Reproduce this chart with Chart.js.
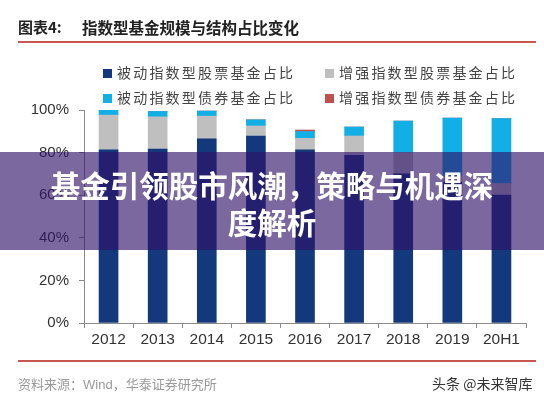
<html><head><script src="https://cdn.jsdelivr.net/npm/chart.js@4.4.3/dist/chart.umd.min.js"></script>
<style>
body { margin:0; background:#fff; font-family:"Noto Sans CJK SC", sans-serif; }
#wrap { position:relative; width:544px; height:400px; overflow:hidden; }
#box { position:absolute; left:0; top:0; width:544px; height:400px; }
.abs { position:absolute; white-space:nowrap; }
.line { position:absolute; left:18px; width:518px; height:2px; background:#c8574f; }
#legend .it { position:absolute; font-size:14px; letter-spacing:2.2px; color:#444; line-height:16px; }
#legend .sq { display:inline-block; width:9px; height:9px; margin-right:5px; vertical-align:0px; }
#band { position:absolute; left:0; top:152px; width:544px; height:98px; background:rgba(47,19,103,0.64);
  color:#fff; font-weight:bold; font-size:29.5px; line-height:37px; text-align:center; padding-top:14px; box-sizing:border-box; }
</style></head>
<body>
<div id="wrap">
<div id="box"><canvas id="mychart"></canvas></div>
<div class="abs" style="left:18px;top:16px;font-size:15px;font-weight:bold;color:#222">图表4:</div>
<div class="abs" style="left:82px;top:16px;font-size:15.5px;font-weight:bold;color:#222">指数型基金规模与结构占比变化</div>
<div class="line" style="top:41px"></div>
<div id="legend"></div>
<div id="band">基金引领股市风潮，策略与机遇深<br>度解析</div>
<div class="line" style="top:360px"></div>
<div class="abs" style="left:18px;top:374px;font-size:13px;color:#9a9a9a">资料来源：<span style="font-family:'Liberation Sans'">Wind</span>，华泰证券研究所</div>
<div class="abs" style="left:432px;top:373px;font-size:14px;color:#333">头条 @未来智库</div>
</div>
<script>
labels = ["2012","2013","2014","2015","2016","2017","2018","2019","20H1"]
passiveStock  = [81.3, 81.6, 86.5, 87.8, 81.3, 78.7, 70.0, 66.0, 60.0]
enhancedStock = [16.3, 15.2, 10.6, 4.7, 5.4, 9.1, 10.0, 3.0, 5.5]
passiveBond   = [2.3, 2.5, 2.4, 2.9, 3.2, 4.2, 14.8, 27.2, 30.5]
enhancedBond  = [0, 0, 0, 0, 0.7, 0, 0, 0, 0]
names = ["被动指数型股票基金占比","增强指数型股票基金占比","被动指数型债券基金占比","增强指数型债券基金占比"]
colors = ["#13397c","#bfbfbf","#12aee6","#c0504d"]
yTicks = [0,20,40,60,80,100]

// legend (html), 2 columns
legend = document.querySelector("#legend")
legPos = [[103,64],[325,64],[103,89],[325,89]]
names.forEach(function(n,i){
  d = document.createElement("div"); d.className = "it"
  d.style.left = legPos[i][0]+"px"; d.style.top = legPos[i][1]+"px"
  d.innerHTML = '<span class="sq" style="background:'+colors[i]+'"></span>'+n
  legend.appendChild(d)
})

series = [passiveStock, enhancedStock, passiveBond, enhancedBond]
datainfo = { labels: labels, datasets: series.map(function(s,i){
  return { label: names[i], data: s, backgroundColor: colors[i], barThickness: 19, stack: "a" } }) }

config = { type: "bar", data: datainfo, options: {
  responsive: true, maintainAspectRatio: false, animation: false,
  layout: { padding: { left: 0, right: 18, top: 110, bottom: 49 } },
  plugins: { legend: { display: false }, tooltip: { enabled: false } },
  scales: {
    x: { stacked: true,
      grid: { drawOnChartArea: false, tickLength: 5, color: "#8a8a8a", offset: true },
      border: { color: "#8a8a8a" },
      ticks: { color: "#333", padding: 2, font: { family: "Liberation Sans", size: 15.5 } },
      afterFit: function(s){ s.height = 28 } },
    y: { stacked: true, min: 0, max: 100,
      afterBuildTicks: function(s){ s.ticks = yTicks.map(function(v){ return {value:v} }) },
      grid: { drawOnChartArea: false, tickLength: 5, color: "#8a8a8a" },
      border: { color: "#8a8a8a" },
      ticks: { color: "#333", padding: 10, font: { family: "Liberation Sans", size: 15 },
        callback: function(v){ return v + "%" } },
      afterFit: function(s){ s.width = 84 } }
  } } }
new Chart(document.querySelector("#mychart"), config)
</script>
</body></html>
